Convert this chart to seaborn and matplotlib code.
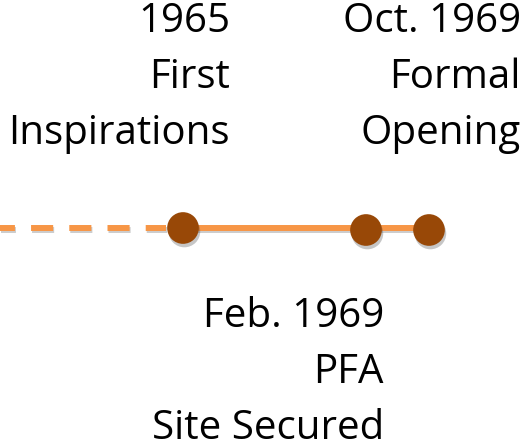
import matplotlib
matplotlib.use("Agg")
import matplotlib.pyplot as plt
import matplotlib.patheffects as pe
import seaborn as sns
import pandas as pd

# event positions along the timeline (unitless track position) and labels
event_pos = [183, 366, 429]
event_dates = ["1965", "Feb. 1969", "Oct. 1969"]
event_text = [["First", "Inspirations"], ["PFA", "Site Secured"], ["Formal", "Opening"]]
label_side = ["top", "bottom", "top"]
label_right = [230, 384, 521]

dash_start, dash_end = 0, 166

sns.set_style("white")
plt.rcParams["font.family"] = ["Open Sans", "DejaVu Sans"]

fig = plt.figure(figsize=(5.29, 4.48), dpi=100)
ax = fig.add_axes([0, 0, 1, 1])

track_y = 228
line_col = "#F79646"
dot_col = "#984807"
line_fx = [pe.SimpleLineShadow(offset=(0.8, -1.5), alpha=0.2), pe.Normal()]
dot_fx = [pe.SimplePatchShadow(offset=(1, -2.5), shadow_rgbFace="#444444", alpha=0.3), pe.Normal()]

# dashed lead-in
ax.plot([dash_start, dash_end], [track_y, track_y], color=line_col, lw=4.3,
        linestyle=(1.2, (3.7, 2.7)), dash_capstyle="butt", zorder=1,
        path_effects=line_fx)

# solid part between the events
solid = pd.DataFrame({"x": [event_pos[0], event_pos[-1]], "y": [track_y, track_y]})
sns.lineplot(data=solid, x="x", y="y", color=line_col, lw=4.3, ax=ax, zorder=2,
             path_effects=line_fx)

# event dots
dots = pd.DataFrame({"x": event_pos, "y": [track_y, track_y + 2, track_y + 2]})
sns.scatterplot(data=dots, x="x", y="y", s=520, color=dot_col, edgecolor="none",
                ax=ax, zorder=3)
for coll in ax.collections:
    coll.set_path_effects(dot_fx)

# labels, right aligned, three lines each
for date, text, side, xr in zip(event_dates, event_text, label_side, label_right):
    lines = [date] + text
    y0 = 32 if side == "top" else 327
    for i, ln in enumerate(lines):
        ax.text(xr, y0 + i * 56, ln, ha="right", va="baseline", fontsize=29, color="black")

ax.set_xlim(0, 529)
ax.set_ylim(448, 0)
ax.set_axis_off()

fig.savefig("out.png", dpi=100)
